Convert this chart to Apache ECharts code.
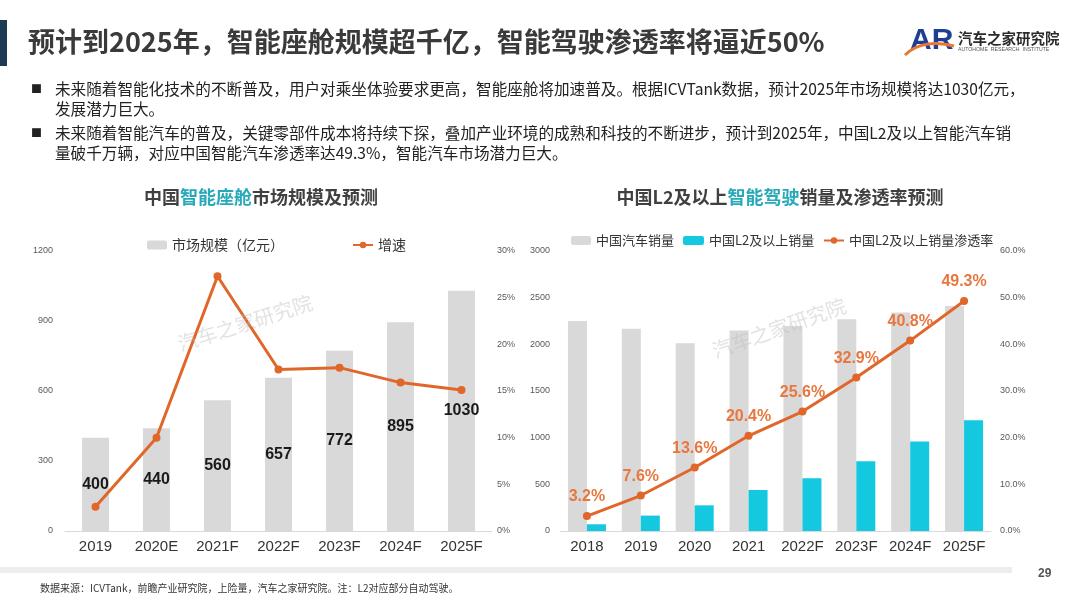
<!DOCTYPE html>
<html><head><meta charset="utf-8">
<script src="https://cdn.jsdelivr.net/npm/echarts@6/dist/echarts.min.js"></script>
<style>html,body{margin:0;padding:0;background:#fff}#c{width:1080px;height:608px}</style>
</head><body><div id="c"></div>
<script>
// ---- data ----
const cabinYears = ['2019','2020E','2021F','2022F','2023F','2024F','2025F'];
const cabinMarket = [400, 440, 560, 657, 772, 895, 1030];       // 亿元
const cabinGrowth = [2.6, 10.0, 27.3, 17.3, 17.5, 15.9, 15.1];   // %
const cabinLeftTicks = [0, 300, 600, 900, 1200];
const cabinRightTicks = [0, 5, 10, 15, 20, 25, 30];

const adasYears = ['2018','2019','2020','2021','2022F','2023F','2024F','2025F'];
const carSales = [2250, 2168, 2011, 2148, 2196, 2268, 2340, 2411];
const l2Sales = [72, 165, 275, 439, 565, 747, 958, 1186];
const l2Rate = [3.2, 7.6, 13.6, 20.4, 25.6, 32.9, 40.8, 49.3];    // %
const adasLeftTicks = [0, 500, 1000, 1500, 2000, 2500, 3000];
const adasRightTicks = [0, 10, 20, 30, 40, 50, 60];

const ORANGE = '#E0662A';
const LABEL_ORANGE = '#E8773F';
const GRAY = '#D9D9D9';
const CYAN = '#14C8E0';
const TEAL = '#27A9BA';
const CJK = '"Noto Sans CJK SC", "Noto Sans", sans-serif';
const NUM = '"Liberation Sans", Arial, sans-serif';

const chart = echarts.init(document.getElementById('c'));

const yLabel = {fontSize: 9, color: '#595959', fontFamily: NUM};
const xLabel = {fontSize: 15, color: '#333', fontFamily: NUM, margin: 8, interval: 0, hideOverlap: false};

const legendText = {fontSize: 14, color: '#333', fontFamily: CJK};
const legendText2 = {fontSize: 13, color: '#333', fontFamily: CJK};

chart.setOption({
  backgroundColor: '#fff',
  animation: false,
  grid: [
    {left: 65, right: 588, top: 251, bottom: 77},
    {left: 560, right: 89, top: 251, bottom: 77}
  ],
  legend: [
    {data: ['市场规模（亿元）'], left: 142, top: 233, itemWidth: 20, itemHeight: 9, itemGap: 4, textStyle: legendText},
    {data: ['增速'], left: 347, top: 233, itemWidth: 20, itemHeight: 8, textStyle: legendText},
    {data: ['中国汽车销量'], left: 566, top: 229, itemWidth: 20, itemHeight: 9, textStyle: legendText2},
    {data: ['中国L2及以上销量'], left: 678, top: 229, itemWidth: 21, itemHeight: 9, textStyle: legendText2},
    {data: ['中国L2及以上销量渗透率'], left: 818, top: 229, itemWidth: 20, itemHeight: 8, textStyle: legendText2}
  ],
  xAxis: [
    {type: 'category', gridIndex: 0, data: cabinYears, axisTick: {show: false},
     axisLine: {lineStyle: {color: '#D9D9D9'}}, axisLabel: xLabel},
    {type: 'category', gridIndex: 1, data: adasYears, axisTick: {show: false},
     axisLine: {lineStyle: {color: '#D9D9D9'}}, axisLabel: xLabel}
  ],
  yAxis: [
    {type: 'value', gridIndex: 0, min: cabinLeftTicks[0], max: cabinLeftTicks[cabinLeftTicks.length-1], interval: 300,
     splitLine: {show: false}, axisLine: {show: false}, axisTick: {show: false},
     axisLabel: Object.assign({margin: 12, formatter: v => String(v)}, yLabel)},
    {type: 'value', gridIndex: 0, position: 'right', min: cabinRightTicks[0], max: cabinRightTicks[cabinRightTicks.length-1], interval: 5,
     splitLine: {show: false}, axisLine: {show: false}, axisTick: {show: false},
     axisLabel: Object.assign({margin: 5, formatter: v => v + '%'}, yLabel)},
    {type: 'value', gridIndex: 1, min: adasLeftTicks[0], max: adasLeftTicks[adasLeftTicks.length-1], interval: 500,
     splitLine: {show: false}, axisLine: {show: false}, axisTick: {show: false},
     axisLabel: Object.assign({margin: 10, formatter: v => String(v)}, yLabel)},
    {type: 'value', gridIndex: 1, position: 'right', min: adasRightTicks[0], max: adasRightTicks[adasRightTicks.length-1], interval: 10,
     splitLine: {show: false}, axisLine: {show: false}, axisTick: {show: false},
     axisLabel: Object.assign({margin: 9, formatter: v => v.toFixed(1) + '%'}, yLabel)}
  ],
  series: [
    {name: '市场规模（亿元）', type: 'bar', xAxisIndex: 0, yAxisIndex: 0, data: cabinMarket, barWidth: 27,
     itemStyle: {color: GRAY},
     label: {show: true, position: 'inside', fontSize: 16, fontWeight: 'bold', color: '#1a1a1a', fontFamily: NUM}},
    {name: '增速', type: 'line', xAxisIndex: 0, yAxisIndex: 1, data: cabinGrowth,
     symbol: 'circle', symbolSize: 8, lineStyle: {color: ORANGE, width: 3}, itemStyle: {color: ORANGE}, z: 5},
    {name: '中国汽车销量', type: 'bar', xAxisIndex: 1, yAxisIndex: 2, data: carSales, barWidth: 19, barGap: '0%',
     itemStyle: {color: GRAY}},
    {name: '中国L2及以上销量', type: 'bar', xAxisIndex: 1, yAxisIndex: 2, data: l2Sales, barWidth: 19, barGap: '0%',
     itemStyle: {color: CYAN}},
    {name: '中国L2及以上销量渗透率', type: 'line', xAxisIndex: 1, yAxisIndex: 3, data: l2Rate,
     symbol: 'circle', symbolSize: 8, lineStyle: {color: ORANGE, width: 3}, itemStyle: {color: ORANGE}, z: 5,
     label: {show: true, position: 'top', distance: 7, formatter: p => p.value.toFixed(1) + '%',
             fontSize: 16, fontWeight: 'bold', color: LABEL_ORANGE, fontFamily: NUM}}
  ],
  graphic: [
    // header bar and title
    {type: 'rect', shape: {x: 0, y: 20, width: 7, height: 46}, style: {fill: '#1E3A55'}},
    {type: 'text', x: 28, y: 42, style: {text: '预计到2025年，智能座舱规模超千亿，智能驾驶渗透率将逼近50%',
      fontSize: 27, fontWeight: 'bold', fill: '#3A3A3A', fontFamily: CJK, verticalAlign: 'middle'}},
    // logo
    {type: 'text', x: 910, y: 41, style: {text: 'AR', fontSize: 30, fontWeight: 'bold', fill: '#1C3F94',
      fontFamily: NUM, verticalAlign: 'middle'}},
    {type: 'bezierCurve', shape: {x1: 905, y1: 55, cpx1: 917, cpy1: 43, cpx2: 936, cpy2: 41, x2: 954, y2: 46},
      style: {stroke: '#E9782E', lineWidth: 3, fill: null}, z: 10},
    {type: 'text', x: 958, y: 38, style: {text: '汽车之家研究院', fontSize: 14.5, fontWeight: 'bold', fill: '#2a2a2a',
      fontFamily: CJK, verticalAlign: 'middle'}},
    {type: 'text', x: 958, y: 50, style: {text: 'AUTOHOME  RESEARCH  INSTITUTE', fontSize: 5.2, fill: '#555',
      fontFamily: NUM, verticalAlign: 'middle'}},
    // bullets
    {type: 'text', x: 31, y: 89, style: {text: '■', fontSize: 11, fill: '#222', fontFamily: CJK, verticalAlign: 'middle'}},
    {type: 'text', x: 55, y: 89, style: {text: '未来随着智能化技术的不断普及，用户对乘坐体验要求更高，智能座舱将加速普及。根据ICVTank数据，预计2025年市场规模将达1030亿元，',
      fontSize: 15.6, fill: '#222', fontFamily: CJK, verticalAlign: 'middle'}},
    {type: 'text', x: 55, y: 109, style: {text: '发展潜力巨大。', fontSize: 15.6, fill: '#222', fontFamily: CJK, verticalAlign: 'middle'}},
    {type: 'text', x: 31, y: 133, style: {text: '■', fontSize: 11, fill: '#222', fontFamily: CJK, verticalAlign: 'middle'}},
    {type: 'text', x: 55, y: 133, style: {text: '未来随着智能汽车的普及，关键零部件成本将持续下探，叠加产业环境的成熟和科技的不断进步，预计到2025年，中国L2及以上智能汽车销',
      fontSize: 15.6, fill: '#222', fontFamily: CJK, verticalAlign: 'middle'}},
    {type: 'text', x: 55, y: 153, style: {text: '量破千万辆，对应中国智能汽车渗透率达49.3%，智能汽车市场潜力巨大。',
      fontSize: 15.6, fill: '#222', fontFamily: CJK, verticalAlign: 'middle'}},
    // sub titles
    {type: 'text', x: 261, y: 197, style: {text: '{a|中国}{b|智能座舱}{a|市场规模及预测}', align: 'center', verticalAlign: 'middle',
      rich: {a: {fontSize: 18, fontWeight: 'bold', fill: '#404040', fontFamily: CJK},
             b: {fontSize: 18, fontWeight: 'bold', fill: TEAL, fontFamily: CJK}}}},
    {type: 'text', x: 780, y: 197, style: {text: '{a|中国L2及以上}{b|智能驾驶}{a|销量及渗透率预测}', align: 'center', verticalAlign: 'middle',
      rich: {a: {fontSize: 18, fontWeight: 'bold', fill: '#404040', fontFamily: CJK},
             b: {fontSize: 18, fontWeight: 'bold', fill: TEAL, fontFamily: CJK}}}},
    // watermarks
    {type: 'text', x: 245, y: 323, rotation: 0.31, z: 100, style: {text: '汽车之家研究院', fontSize: 20, fill: 'rgba(190,190,190,0.45)',
      fontFamily: CJK, align: 'center', verticalAlign: 'middle'}},
    {type: 'text', x: 779, y: 328, rotation: 0.34, z: 100, style: {text: '汽车之家研究院', fontSize: 20, fill: 'rgba(190,190,190,0.45)',
      fontFamily: CJK, align: 'center', verticalAlign: 'middle'}},
    // footer
    {type: 'rect', shape: {x: 0, y: 567, width: 1012, height: 6}, style: {fill: '#EDEDED'}},
    {type: 'text', x: 1038, y: 574, style: {text: '29', fontSize: 12, fontWeight: 'bold', fill: '#555', fontFamily: NUM, verticalAlign: 'middle'}},
    {type: 'text', x: 40, y: 588, style: {text: '数据来源：ICVTank，前瞻产业研究院，上险量，汽车之家研究院。注：L2对应部分自动驾驶。',
      fontSize: 10, fill: '#333', fontFamily: CJK, verticalAlign: 'middle'}}
  ]
});
</script></body></html>
